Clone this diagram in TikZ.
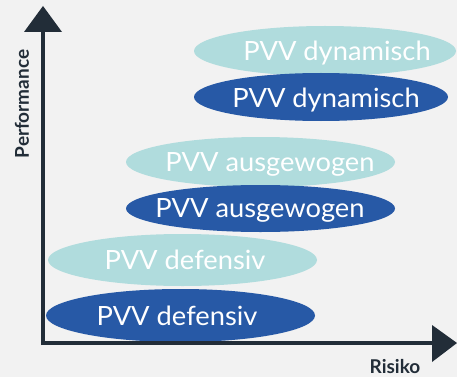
\documentclass[tikz,border=0pt]{standalone}
\usepackage{fontspec}
\setmainfont{Lato}
\newfontfamily\lblfont{Lato}[FakeStretch=1.03]
\usetikzlibrary{shapes.geometric}
\definecolor{bg}{HTML}{F2F2F2}
\definecolor{axis}{HTML}{222D38}
\definecolor{lightc}{HTML}{B0DCDD}
\definecolor{darkc}{HTML}{2759A6}
\tikzset{
  blob/.style={ellipse, draw=none, inner sep=0pt},
  lightblob/.style={blob, fill=lightc},
  darkblob/.style={blob, fill=darkc},
  lbl/.style={text=white, font=\lblfont\fontsize{26.5}{30}\selectfont, inner sep=0pt, anchor=base},
  axlbl/.style={text=axis, font=\fontsize{19}{22}\selectfont\bfseries, inner sep=0pt},
  axline/.style={draw=axis, line width=4pt},
  axhead/.style={fill=axis, draw=none}
}
\begin{document}
\begin{tikzpicture}[x=1pt,y=-1pt]
\fill[bg] (0,0) rectangle (457,377);
\useasboundingbox (0,0) rectangle (457,377);
% ellipses
\node[lightblob, minimum width=262pt, minimum height=50pt] (ld) at (325,51) {};
\node[lbl] (ldt) at (337,60.5) {PVV dynamisch};
\node[darkblob, minimum width=254pt, minimum height=48pt] (dd) at (321,97) {};
\node[lbl] (ddt) at (326,107) {PVV dynamisch};
\node[lightblob, minimum width=269pt, minimum height=50pt] (la) at (260.5,162) {};
\node[lbl] (lat) at (270,171.5) {PVV ausgewogen};
\node[darkblob, minimum width=269pt, minimum height=47pt] (da) at (260.5,208.5) {};
\node[lbl] (dat) at (260,217) {PVV ausgewogen};
\node[lightblob, minimum width=269pt, minimum height=52pt] (lf) at (182.5,260) {};
\node[lbl] (lft) at (185,269.5) {PVV defensiv};
\node[darkblob, minimum width=269pt, minimum height=53pt] (df) at (180.5,315.5) {};
\node[lbl] (dft) at (177,325) {PVV defensiv};
% axes
\coordinate (o) at (43,343);
\coordinate (ytop) at (43,30);
\coordinate (xend) at (434,343);
\draw[axline] (43,345) -- (ytop);
\draw[axline] (41,343) -- (xend);
\fill[axhead] (43,6) -- (62,32) -- (24,32) -- cycle;
\fill[axhead] (457,343) -- (432,325) -- (432,362) -- cycle;
\node[axlbl, rotate=90] (perf) at (22,104) {Performance};
\node[axlbl] (ris) at (395,367) {Risiko};
\end{tikzpicture}
\end{document}
